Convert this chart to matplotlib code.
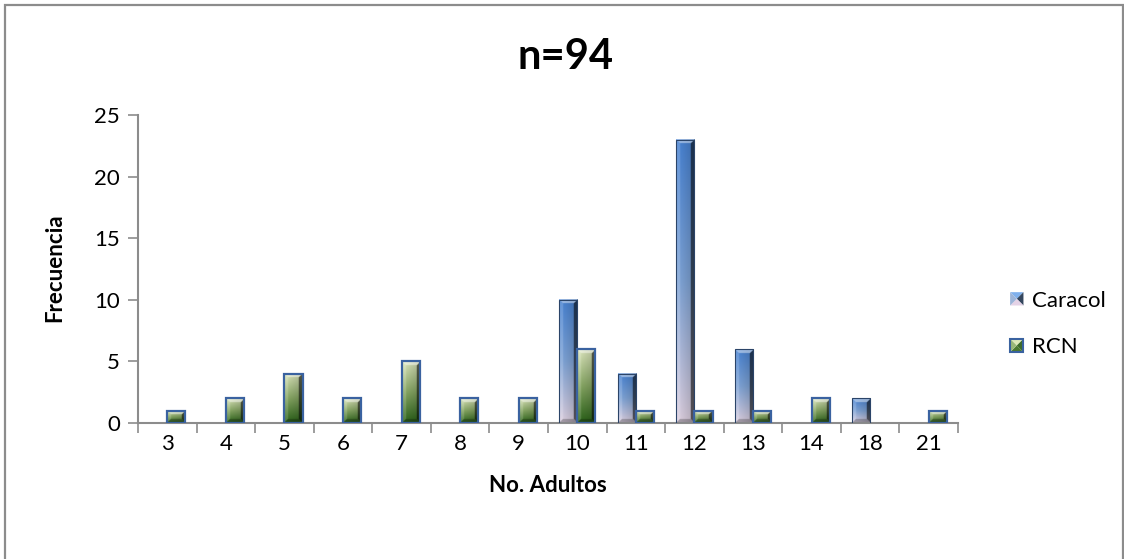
import numpy as np
import matplotlib
matplotlib.use("Agg")
import matplotlib.pyplot as plt
from matplotlib.patches import Rectangle, Polygon
from matplotlib.legend_handler import HandlerBase
from matplotlib.colors import to_rgb

plt.rcParams['font.family'] = ['Lato', 'DejaVu Sans']

# Datos
categorias = ["3", "4", "5", "6", "7", "8", "9", "10", "11", "12", "13", "14", "18", "21"]
caracol = [0, 0, 0, 0, 0, 0, 0, 10, 4, 23, 6, 0, 2, 0]
rcn = [1, 2, 4, 2, 5, 2, 2, 6, 1, 1, 1, 2, 0, 1]

W, H, DPI = 1124, 559, 100
ancho = 0.31

# Colores de los degradados (arriba, medio, abajo)
grad_caracol = [to_rgb("#4a86d8"), to_rgb("#82a8dc"), to_rgb("#e4d6e6")]
grad_rcn = [to_rgb("#e4eec4"), to_rgb("#8aab66"), to_rgb("#2a6418")]


def imagen_bisel(h, w, colores, b=4):
    """Imagen RGB de una barra con efecto bisel (h, w en pixeles)."""
    h = max(int(round(h)), 2)
    w = max(int(round(w)), 2)
    ys = (np.arange(h) + 0.5) / h
    c0, c1, c2 = [np.array(c) for c in colores]
    base = np.where(ys[:, None] < 0.5,
                    c0 + (c1 - c0) * (ys[:, None] / 0.5),
                    c1 + (c2 - c1) * ((ys[:, None] - 0.5) / 0.5))
    img = np.repeat(base[:, None, :], w, axis=1)
    xs = (np.arange(w) + 0.5) / w
    img = img * (1.0 - 0.22 * xs)[None, :, None]

    yy, xx = np.mgrid[0:h, 0:w] + 0.5
    d = np.stack([yy, h - yy, xx, w - xx])
    k = d.argmin(0)
    borde = d.min(0) < b
    arriba = borde & (k == 0)
    abajo = borde & (k == 1)
    izq = borde & (k == 2)
    der = borde & (k == 3)
    img[arriba] = img[arriba] + (1 - img[arriba]) * 0.45
    img[izq] = img[izq] + (1 - img[izq]) * 0.15
    img[der] = img[der] * 0.45
    img[abajo] = img[abajo] * 0.75
    return np.clip(img, 0, 1)


fig = plt.figure(figsize=(W / DPI, H / DPI), dpi=DPI)
ax = fig.add_axes([138 / W, 1 - 423 / H, 820 / W, 308 / H])

n = len(categorias)
x = np.arange(n)
ax.set_xlim(-0.5, n - 0.5)
ax.set_ylim(0, 25)

px_cat = 820 / n
px_unidad = 308 / 25

series = [(caracol, -ancho / 2, grad_caracol, "#2b4468", 0.8),
          (rcn, ancho / 2, grad_rcn, "#3a62a0", 1.6)]
for valores, desp, grad, borde, lw in series:
    barras = ax.bar(x + desp, valores, width=ancho, color="none",
                    edgecolor="none", zorder=2)
    for xi, v in zip(x, valores):
        if v <= 0:
            continue
        x0 = xi + desp - ancho / 2
        img = imagen_bisel(v * px_unidad * 2, ancho * px_cat * 2, grad, b=8)
        ax.imshow(img, extent=[x0, x0 + ancho, 0, v], aspect="auto",
                  origin="upper", interpolation="bilinear", zorder=2)
        ax.add_patch(Rectangle((x0, 0), ancho, v, fill=False,
                               edgecolor=borde, linewidth=lw, zorder=3))

ax.set_xlim(-0.5, n - 0.5)
ax.set_ylim(0, 25)

# Ejes
gris = "#8c8c8c"
for s in ["top", "right"]:
    ax.spines[s].set_visible(False)
for s in ["left", "bottom"]:
    ax.spines[s].set_color(gris)
    ax.spines[s].set_linewidth(1.5)

ax.set_yticks(np.arange(0, 26, 5))
ax.tick_params(axis="y", length=7, width=1.2, color=gris, labelsize=16, pad=6)
ax.set_xticks(np.arange(-0.5, n, 1))
ax.set_xticklabels([])
ax.tick_params(axis="x", which="major", length=7, width=1.2, color=gris)
ax.set_xticks(x, minor=True)
ax.set_xticklabels(categorias, minor=True)
ax.tick_params(axis="x", which="minor", length=0, labelsize=16, pad=8)

# Textos
fig.text(565 / W, 1 - 57 / H, "n=94", fontsize=30, fontweight="bold",
         ha="center", va="center")
fig.text(55 / W, 1 - 268 / H, "Frecuencia", fontsize=16, fontweight="bold",
         rotation=90, ha="center", va="center")
fig.text(548 / W, 1 - 486 / H, "No. Adultos", fontsize=16, fontweight="bold",
         ha="center", va="center")


# Leyenda con marcadores biselados
class HandlerBisel(HandlerBase):
    def __init__(self, cols, borde):
        super().__init__()
        self.cols = cols
        self.borde = borde

    def create_artists(self, legend, orig_handle, xdescent, ydescent,
                       width, height, fontsize, trans):
        s = min(width, height)
        x0, y0 = -xdescent, -ydescent + (height - s) / 2
        cx, cy = x0 + s / 2, y0 + s / 2
        esq = [(x0, y0 + s), (x0 + s, y0 + s), (x0 + s, y0), (x0, y0)]
        arts = []
        # arriba, derecha, abajo, izquierda
        for i, c in enumerate(self.cols):
            p = Polygon([esq[i], esq[(i + 1) % 4], (cx, cy)], closed=True,
                        facecolor=c, edgecolor="none", transform=trans)
            arts.append(p)
        if self.borde:
            arts.append(Rectangle((x0, y0), s, s, fill=False,
                                  edgecolor=self.borde, linewidth=1.5,
                                  transform=trans))
        return arts


h1 = Rectangle((0, 0), 1, 1)
h2 = Rectangle((0, 0), 1, 1)
ley = fig.legend([h1, h2], ["Caracol", "RCN"],
                 handler_map={h1: HandlerBisel(["#7fb0ec", "#34465e", "#e4d2e6", "#9cb4d8"], None),
                              h2: HandlerBisel(["#dfe9b8", "#3e6b2a", "#4c7a30", "#9ab878"], "#3a62a0")},
                 loc="center left", bbox_to_anchor=(999 / W, 1 - 324 / H),
                 frameon=False, fontsize=16, handlelength=0.6, handleheight=0.6,
                 handletextpad=0.4, labelspacing=1.2, borderpad=0)

# Marco exterior
fig.patches.append(Rectangle((5 / W, -0.02), 1118 / W, 1.02 - 5 / H,
                             transform=fig.transFigure, fill=False,
                             edgecolor=gris, linewidth=1.6))

fig.savefig("out.png", dpi=DPI)
